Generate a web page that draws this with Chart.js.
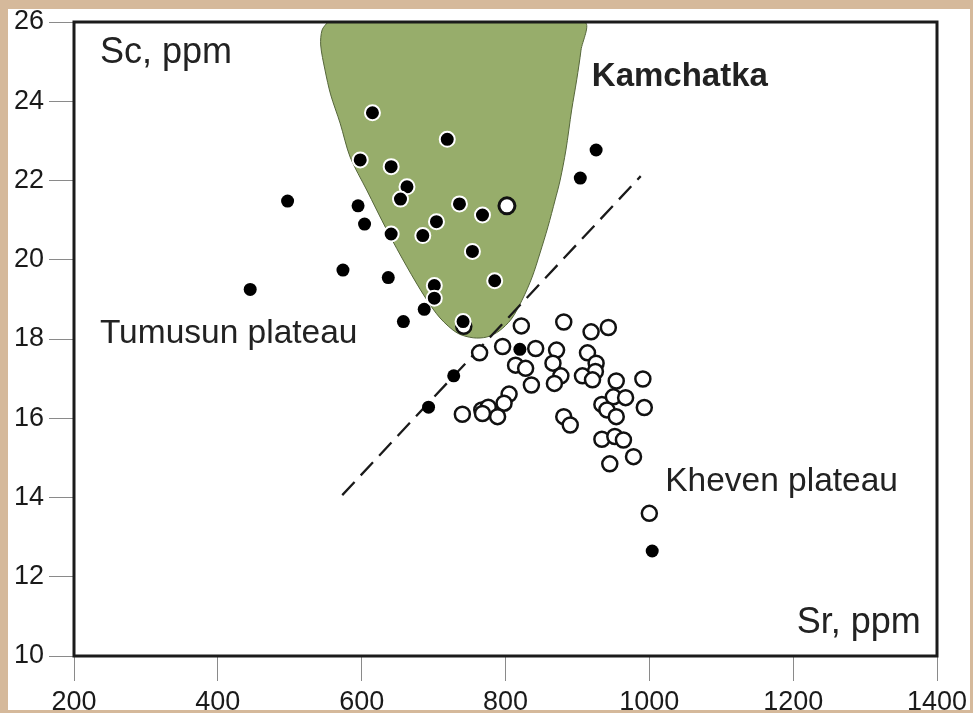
<!DOCTYPE html>
<html>
<head>
<meta charset="utf-8">
<script src="https://cdn.jsdelivr.net/npm/chart.js@4.4.0/dist/chart.umd.min.js"></script>
<style>
  html, body { margin: 0; padding: 0; background: #d5b99b; }
  body { width: 973px; height: 713px; position: relative; overflow: hidden; }
  #wrap { position: absolute; left: 8px; top: 9px; width: 962px; height: 701px; background: #fff; }
</style>
</head>
<body>
<div id="wrap"><canvas id="c" width="962" height="701"></canvas></div>
<script>
// Sr (x) vs Sc (y), ppm

// Kamchatka field outline (Sr, Sc)
const fieldSr = [553, 545, 543, 549, 557, 570, 584, 607, 635, 663, 688, 709, 733, 755, 774, 791, 808, 823, 837, 848, 859, 869, 876, 884, 892, 899, 905, 909, 553];
const fieldSc = [26, 25.8, 25.42, 24.79, 24.16, 23.45, 22.59, 21.76, 20.75, 19.82, 19.06, 18.53, 18.15, 18.03, 18.05, 18.2, 18.5, 18.98, 19.56, 20.17, 20.83, 21.51, 22.01, 22.77, 23.78, 24.54, 25.29, 26, 26];

// dashed divider
const lineSr = [573, 988];
const lineSc = [14.06, 22.11];

// black dots with white rim (inside the Kamchatka field)
const rimSr = [615, 598, 641, 663, 654, 704, 641, 685, 701, 701, 719, 736, 768, 754, 785, 741];
const rimSc = [23.71, 22.52, 22.35, 21.84, 21.53, 20.96, 20.65, 20.61, 19.35, 19.03, 23.04, 21.41, 21.13, 20.21, 19.47, 18.44];

// Tumusun plateau, plain black dots
const tumSr = [497, 595, 604, 574, 637, 445, 687, 658, 904, 926, 820, 728, 693, 1004];
const tumSc = [21.48, 21.36, 20.9, 19.74, 19.55, 19.25, 18.75, 18.44, 22.06, 22.77, 17.74, 17.07, 16.28, 12.65];

// single open circle inside the field
const oddSr = [802];
const oddSc = [21.36];

// Kheven plateau, open circles
const khevSr = [822, 881, 919, 943, 764, 796, 842, 871, 914, 814, 828, 866, 926, 925, 877, 907, 921, 836, 868, 954, 991,
  805, 798, 740, 767, 776, 789, 768, 934, 950, 967, 993, 941, 954, 881, 890, 934, 952, 964, 978, 945, 1000, 742];
const khevSc = [18.33, 18.43, 18.18, 18.29, 17.65, 17.81, 17.76, 17.72, 17.65, 17.34, 17.26, 17.39, 17.39, 17.18, 17.07, 17.07, 16.97, 16.84, 16.88, 16.94, 16.99,
  16.61, 16.38, 16.1, 16.21, 16.28, 16.04, 16.12, 16.35, 16.54, 16.52, 16.27, 16.21, 16.04, 16.04, 15.83, 15.47, 15.54, 15.45, 15.03, 14.85, 13.6, 18.32];

const notes = [
  { text: 'Sc, ppm', x: 236, y: 24.97, bold: false, size: 36 },
  { text: 'Kamchatka', x: 920, y: 24.38, bold: true, size: 33 },
  { text: 'Tumusun plateau', x: 236, y: 17.9, bold: false, size: 33.5 },
  { text: 'Kheven plateau', x: 1022, y: 14.16, bold: false, size: 33.5 },
  { text: 'Sr, ppm', x: 1205, y: 10.58, bold: false, size: 36 }
];

const pts = (xs, ys) => xs.map((x, i) => ({ x: x, y: ys[i] }));
const FONT = '"Liberation Sans", Arial, sans-serif';

const framePlugin = {
  id: 'frame',
  afterDatasetsDraw(chart) {
    const { ctx, chartArea: a } = chart;
    ctx.save();
    ctx.strokeStyle = '#1b1b1b';
    ctx.lineWidth = 3;
    ctx.strokeRect(a.left, a.top, a.right - a.left, a.bottom - a.top);
    ctx.restore();
  }
};

const notesPlugin = {
  id: 'notes',
  afterDraw(chart) {
    const { ctx, scales } = chart;
    ctx.save();
    ctx.fillStyle = '#222';
    ctx.textBaseline = 'alphabetic';
    ctx.textAlign = 'left';
    notes.forEach(n => {
      ctx.font = (n.bold ? 'bold ' : '') + n.size + 'px ' + FONT;
      ctx.fillText(n.text, scales.x.getPixelForValue(n.x), scales.y.getPixelForValue(n.y));
    });
    ctx.restore();
  }
};

new Chart(document.getElementById('c'), {
  type: 'scatter',
  data: {
    datasets: [
      {
        label: 'rimmed',
        data: pts(rimSr, rimSc),
        backgroundColor: '#000',
        borderColor: '#fff',
        borderWidth: 2,
        pointRadius: 7.5
      },
      {
        label: 'Tumusun',
        data: pts(tumSr, tumSc),
        backgroundColor: '#000',
        borderColor: '#000',
        borderWidth: 0,
        pointRadius: 6.5
      },
      {
        label: 'open in field',
        data: pts(oddSr, oddSc),
        backgroundColor: '#fff',
        borderColor: '#111',
        borderWidth: 3,
        pointRadius: 8
      },
      {
        label: 'Kheven',
        data: pts(khevSr, khevSc),
        backgroundColor: '#fff',
        borderColor: '#111',
        borderWidth: 2.5,
        pointRadius: 7.5
      },
      {
        label: 'divider',
        data: pts(lineSr, lineSc),
        showLine: true,
        borderColor: '#1a1a1a',
        borderWidth: 2.3,
        borderDash: [18, 9],
        pointRadius: 0,
        fill: false
      },
      {
        label: 'Kamchatka',
        data: pts(fieldSr, fieldSc),
        showLine: true,
        tension: 0.3,
        borderColor: '#55663a',
        borderWidth: 1,
        backgroundColor: '#97ad6b',
        pointRadius: 0,
        fill: 'shape'
      }
    ]
  },
  options: {
    responsive: false,
    animation: false,
    events: [],
    layout: { padding: { top: 13, right: 33, left: 0, bottom: 0 } },
    plugins: { legend: { display: false }, tooltip: { enabled: false } },
    scales: {
      x: {
        type: 'linear',
        min: 200,
        max: 1400,
        ticks: {
          stepSize: 200, autoSkip: false, maxRotation: 0, padding: 5, color: '#1a1a1a',
          font: { family: FONT, size: 27 },
          callback: v => String(v)
        },
        grid: { drawOnChartArea: false, drawTicks: true, tickLength: 25, color: '#8a8a8a', lineWidth: 1 },
        border: { display: false },
        afterFit(s) { s.height = 54; s.paddingLeft = 0; s.paddingRight = 0; }
      },
      y: {
        type: 'linear',
        min: 10,
        max: 26,
        ticks: {
          stepSize: 2, autoSkip: false, padding: 5, color: '#1a1a1a',
          font: { family: FONT, size: 27 },
          callback: v => String(v)
        },
        grid: { drawOnChartArea: false, drawTicks: true, tickLength: 25, color: '#8a8a8a', lineWidth: 1 },
        border: { display: false },
        afterFit(s) { s.width = 66; s.paddingTop = 0; s.paddingBottom = 0; }
      }
    }
  },
  plugins: [framePlugin, notesPlugin]
});
</script>
</body>
</html>
